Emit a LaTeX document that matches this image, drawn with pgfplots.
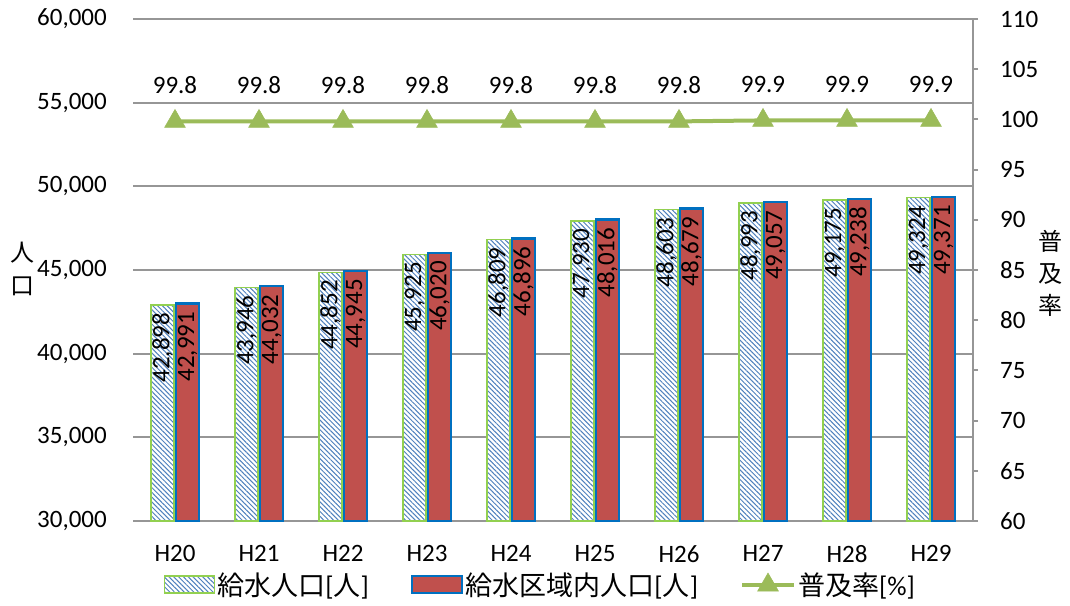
\documentclass[border=0pt]{standalone}
\usepackage{pgfplots}
\pgfplotsset{compat=1.18}
\usetikzlibrary{patterns.meta}
\usepackage{fontspec}
\setmainfont{Carlito}
\newfontfamily\cjk{Noto Sans CJK JP}

\definecolor{gridgray}{RGB}{150,150,150}
\definecolor{barRed}{RGB}{192,80,77}
\definecolor{barBlue}{RGB}{0,112,192}
\definecolor{edgeGreen}{RGB}{146,208,80}
\definecolor{lineGreen}{RGB}{155,187,89}
\definecolor{hatchBlue}{RGB}{79,129,189}

\newcommand\lbl{\fontsize{25}{30}\selectfont}
\newcommand\leg{\fontsize{27}{30}\selectfont}

\pgfkeys{/pgf/number format/1000 sep={,}}

\pgfplotsset{
  hatchbar/.style={draw=edgeGreen, line width=1.5pt, fill=white,
    postaction={pattern={Lines[angle=-45,distance=3.4pt,line width=1pt]}, pattern color=hatchBlue}},
  redbar/.style={draw=barBlue, line width=2.5pt, fill=barRed},
  boxlegend/.style={legend image code/.code={\draw[##1] (0pt,-8pt) rectangle (50pt,9pt);}},
  linelegend/.style={legend image code/.code={\draw[##1,mark repeat=2,mark phase=2]
    plot coordinates {(0pt,0pt) (26pt,0pt) (52pt,0pt)};}},
  frame/.style={
    at={(133pt,84pt)}, anchor=south west,
    width=840pt, height=502pt, scale only axis,
    xmin=-0.5, xmax=9.5,
    /pgf/number format/assume math mode=true,
    tick label style={font=\lbl},
  },
}

\begin{document}
\begin{tikzpicture}
\useasboundingbox (0pt,0pt) rectangle (1070pt,605pt);

% population bars on the left axis
\begin{axis}[
  frame,
  ymin=30000, ymax=60000,
  ytick={30000,35000,...,60000},
  scaled y ticks=false,
  xtick={0,...,9},
  xticklabels={H20,H21,H22,H23,H24,H25,H26,H27,H28,H29},
  axis x line*=bottom, axis y line*=left,
  x axis line style={draw=gridgray, line width=2pt},
  y axis line style={draw=none},
  major tick length=0pt,
  ymajorgrids, grid style={draw=gridgray, line width=2pt},
  yticklabel style={inner xsep=0pt, xshift=-26pt},
  xticklabel style={inner ysep=0pt, yshift=-24pt},
  ylabel={人\\口},
  ylabel style={at={(axis description cs:-0.132,0.503)}, rotate=-90, anchor=center,
    align=center, font=\cjk\fontsize{24}{33}\selectfont},
  ybar, bar width=23pt,
  nodes near coords,
  nodes near coords style={rotate=90, anchor=east, inner xsep=7pt, inner ysep=0pt,
    font=\lbl, text=black},
]
\addplot[hatchbar, bar shift=-12.5pt] coordinates {
  (0,42898) (1,43946) (2,44852) (3,45925) (4,46809)
  (5,47930) (6,48603) (7,48993) (8,49175) (9,49324)};
\addplot[redbar, bar shift=12.5pt] coordinates {
  (0,42991) (1,44032) (2,44945) (3,46020) (4,46896)
  (5,48016) (6,48679) (7,49057) (8,49238) (9,49371)};
\end{axis}

% coverage rate on the right axis
\begin{axis}[
  frame,
  ymin=60, ymax=110,
  ytick={60,65,...,110},
  axis y line*=right, axis x line=none,
  y axis line style={draw=gridgray, line width=2pt},
  ytick style={draw=gridgray, line width=2pt},
  tick align=outside, major tick length=5pt,
  yticklabel style={inner xsep=0pt, xshift=22pt},
  ylabel={普\\及\\率},
  ylabel style={at={(axis description cs:1.092,0.494)}, rotate=-90, anchor=center,
    align=center, font=\cjk\fontsize{24}{32}\selectfont},
  legend style={at={(axis description cs:0.485,-0.1275)}, anchor=center,
    draw=none, fill=none, font=\leg, legend columns=3,
    /tikz/every even column/.append style={column sep=40pt}},
  legend cell align=left,
]
\addlegendimage{hatchbar, boxlegend}
\addlegendentry{{\cjk 給水人口}[{\cjk 人}]}
\addlegendimage{redbar, boxlegend}
\addlegendentry{{\cjk 給水区域内人口}[{\cjk 人}]}
\addplot[draw=lineGreen, line width=4pt, mark=triangle*, mark size=12pt,
  mark options={fill=lineGreen, draw=lineGreen, line width=0.5pt},
  linelegend,
  nodes near coords,
  nodes near coords style={anchor=base, inner sep=0pt, yshift=28pt, font=\lbl, text=black},
] coordinates {
  (0,99.8) (1,99.8) (2,99.8) (3,99.8) (4,99.8)
  (5,99.8) (6,99.8) (7,99.9) (8,99.9) (9,99.9)};
\addlegendentry{{\cjk 普及率}[\%]}
\end{axis}
\end{tikzpicture}
\end{document}
